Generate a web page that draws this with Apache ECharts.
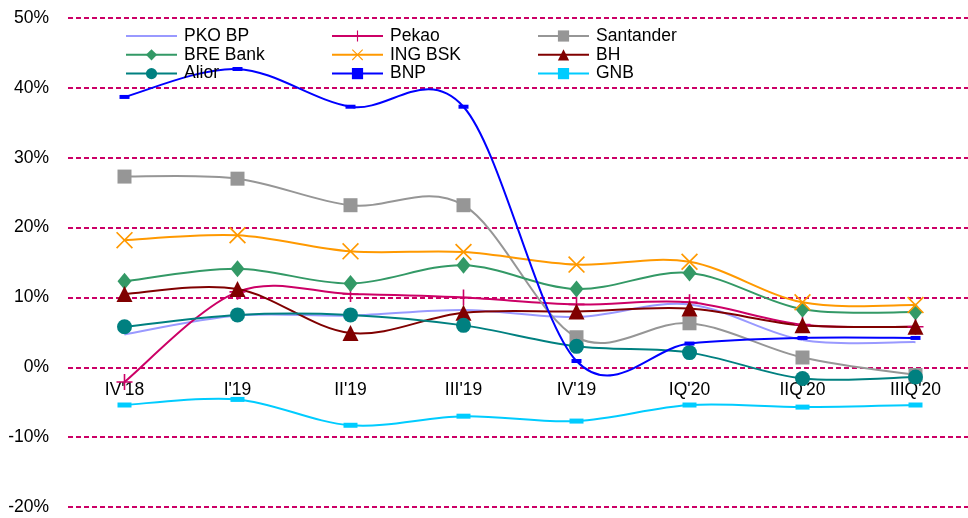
<!DOCTYPE html>
<html><head><meta charset="utf-8">
<script src="https://cdn.jsdelivr.net/npm/echarts@6/dist/echarts.min.js"></script>
<style>html,body{margin:0;padding:0;background:#fff}#c{width:968px;height:518px}</style>
</head><body><div id="c"></div>
<script>
const categories = ["IV'18","I'19","II'19","III'19","IV'19","IQ'20","IIQ'20","IIIQ'20"];
const yTicks = [-20,-10,0,10,20,30,40,50];
const pkoBP     = [4.7, 7.4, 7.4, 8.2, 7.2, 9.0, 3.9, 3.6];
const pekao     = [-2.1, 10.8, 10.5, 10.0, 9.0, 9.3, 6.1, 5.8];
const santander = [27.3, 27.0, 23.2, 23.2, 4.3, 6.3, 1.4, -1.1];
const breBank   = [12.3, 14.1, 12.0, 14.6, 11.2, 13.5, 8.3, 7.9];
const ingBSK    = [18.2, 18.9, 16.6, 16.5, 14.7, 15.1, 9.3, 8.9];
const bh        = [10.5, 11.2, 4.9, 7.8, 8.0, 8.4, 6.0, 5.8];
const alior     = [5.8, 7.5, 7.5, 6.0, 3.0, 2.1, -1.6, -1.4];
const bnp       = [38.7, 42.7, 37.3, 37.3, 0.9, 3.4, 4.2, 4.2];
const gnb       = [-5.4, -4.6, -8.3, -7.0, -7.7, -5.4, -5.7, -5.4];

const PLUS = 'path://M9,0H11V9H20V11H11V20H9V11H0V9H9Z';
const XMARK = 'path://M0,1.4L1.4,0L10,8.6L18.6,0L20,1.4L11.4,10L20,18.6L18.6,20L10,11.4L1.4,20L0,18.6L8.6,10Z';
const FONT = 'Liberation Sans';
const FS = 17.5;

// Excel-like smoothed curve drawn through the axis scales (Catmull-Rom -> Bezier)
function curve(name, values, color, width) {
  return {
    type: 'custom', name: name + ' (curve)', silent: true, animation: false,
    data: values.map((v, i) => [i, v]),
    encode: {x: 0, y: 1},
    renderItem: function (params, api) {
      if (params.dataIndex !== 0) return null;
      const pts = values.map((v, i) => api.coord([i, v]));
      const children = [];
      const n = pts.length;
      for (let i = 0; i < n - 1; i++) {
        const p0 = pts[i - 1] || pts[i], p1 = pts[i], p2 = pts[i + 1], p3 = pts[i + 2] || pts[i + 1];
        children.push({
          type: 'bezierCurve',
          shape: {
            x1: p1[0], y1: p1[1], x2: p2[0], y2: p2[1],
            cpx1: p1[0] + (p2[0] - p0[0]) / 6, cpy1: p1[1] + (p2[1] - p0[1]) / 6,
            cpx2: p2[0] - (p3[0] - p1[0]) / 6, cpy2: p2[1] - (p3[1] - p1[1]) / 6
          },
          style: {stroke: color, lineWidth: width, fill: null}
        });
      }
      return {type: 'group', children};
    }
  };
}
function marks(name, data, color, symbol, size) {
  return {
    name, type: 'line', data,
    symbol: symbol || 'none', symbolSize: size || 0, showSymbol: !!symbol,
    lineStyle: {color, width: 0, opacity: 0},
    itemStyle: {color, borderWidth: 0},
    emphasis: {disabled: true}, silent: true,
    animation: false
  };
}
const defs = [
  ['PKO BP', pkoBP, '#9999FF', null, 0],
  ['Pekao', pekao, '#CC0066', PLUS, 16],
  ['Santander', santander, '#969696', 'rect', 14],
  ['BRE Bank', breBank, '#339966', 'diamond', [14,17]],
  ['ING BSK', ingBSK, '#FF9900', XMARK, 17],
  ['BH', bh, '#800000', 'triangle', 16],
  ['Alior', alior, '#008080', 'circle', 15],
  ['BNP', bnp, '#0000FF', 'rect', [10,4]],
  ['GNB', gnb, '#00CCFF', 'rect', [14,5]]
];
const series = [];
defs.forEach(d => {
  series.push(curve(d[0], d[1], d[2], 2));
  series.push(marks(d[0], d[1], d[2], d[3], d[4]));
});
const colorOf = {};
defs.forEach(d => { colorOf[d[0]] = d[2]; });
function legendItem(name) {
  const it = {name, lineStyle: {color: colorOf[name], width: 2, opacity: 1}};
  if (name === 'PKO BP') it.itemStyle = {opacity: 0};
  return it;
}
const legendBase = {
  orient: 'vertical', top: 22, itemWidth: 51, itemHeight: 14, itemGap: 0.8,
  textStyle: {fontFamily: FONT, fontSize: FS, color: '#000', padding: [0,0,0,2]},
  selectedMode: false
};
const chart = echarts.init(document.getElementById('c'), null, {renderer: 'canvas'});
const option = {
  animation: false,
  backgroundColor: '#fff',
  grid: {left: 68, right: -4, top: 18, bottom: 11, containLabel: false, outerBoundsMode: 'none'},
  legend: [
    Object.assign({left: 120, data: ['PKO BP','BRE Bank','Alior'].map(legendItem)}, legendBase),
    Object.assign({left: 326, data: ['Pekao','ING BSK','BNP'].map(legendItem)}, legendBase),
    Object.assign({left: 532, data: ['Santander','BH','GNB'].map(legendItem)}, legendBase)
  ],
  xAxis: {
    type: 'category', data: categories, boundaryGap: true, position: 'bottom', offset: 0,
    axisLine: {show: false, onZero: false}, axisTick: {show: false},
    axisLabel: {fontFamily: FONT, fontSize: FS, color: '#000', margin: 14, interval: 0}
  },
  yAxis: {
    type: 'value', min: yTicks[0], max: yTicks[yTicks.length-1], interval: 10,
    axisLine: {show: false}, axisTick: {show: false},
    axisLabel: {fontFamily: FONT, fontSize: FS, color: '#000', margin: 19, formatter: '{value}%'},
    splitLine: {show: true, lineStyle: {color: '#CC0066', width: 2, type: [5,3]}}
  },
  series
};
chart.setOption(option);
// place category labels under the 0% line, using the value axis scale
const zeroPx = chart.convertToPixel({yAxisIndex: 0}, 0);
const bottomPx = chart.convertToPixel({yAxisIndex: 0}, yTicks[0]);
chart.setOption({xAxis: {offset: zeroPx - bottomPx}});
</script></body></html>
